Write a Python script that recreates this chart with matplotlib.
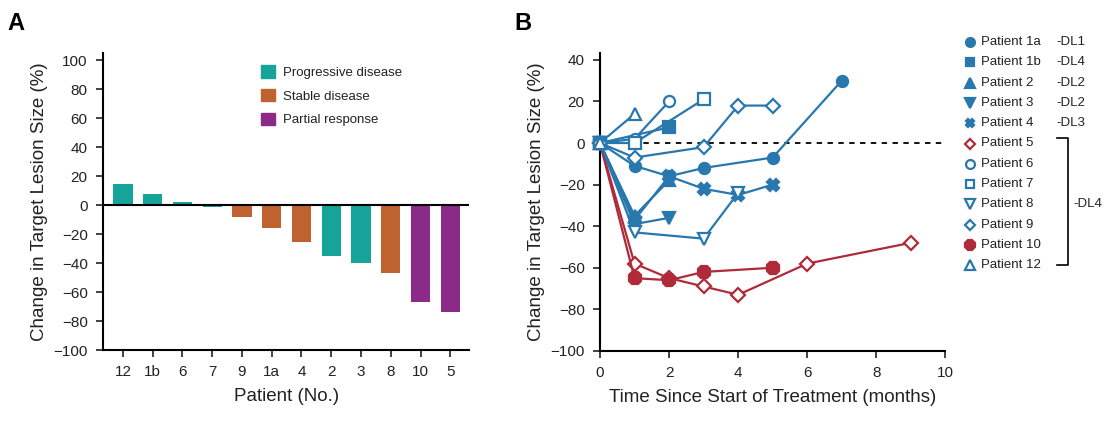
import matplotlib
matplotlib.use('Agg')
from matplotlib import pyplot as plt

plt.rcParams['font.family'] = ['Liberation Sans', 'DejaVu Sans']

# panel A data
patients = ['12', '1b', '6', '7', '9', '1a', '4', '2', '3', '8', '10', '5']
change = [14.5, 8, 2, -1.5, -8, -16, -25.5, -35, -40, -47, -66.5, -74]
response = ['PD', 'PD', 'PD', 'PD', 'SD', 'SD', 'SD', 'PD', 'PD', 'SD', 'PR', 'PR']
resp_names = {'PD': 'Progressive disease', 'SD': 'Stable disease', 'PR': 'Partial response'}
resp_colors = {'PD': '#15a39a', 'SD': '#c0622f', 'PR': '#8c2a8a'}

# panel B data
blue = '#2878ad'
red = '#b02a3a'
series = [
    ('Patient 1a', '-DL1', [0, 1, 2, 3, 5, 7], [0, -11, -16, -12, -7, 30], 'o', True, blue),
    ('Patient 1b', '-DL4', [0, 2], [0, 7.5], 's', True, blue),
    ('Patient 2', '-DL2', [0, 1, 2], [0, -35, -18], '^', True, blue),
    ('Patient 3', '-DL2', [0, 1, 2], [0, -39, -36], 'v', True, blue),
    ('Patient 4', '-DL3', [0, 1, 2, 3, 4, 5], [0, -37, -16, -22, -25, -20], 'X', True, blue),
    ('Patient 5', '', [0, 1, 2, 3, 4, 6, 9], [0, -58, -65, -69, -73, -58, -48], 'D', False, red),
    ('Patient 6', '', [0, 1, 2], [0, 2, 20], 'o', False, blue),
    ('Patient 7', '', [0, 1, 3], [0, 0, 21], 's', False, blue),
    ('Patient 8', '', [0, 1, 3, 4], [0, -43, -46, -24], 'v', False, blue),
    ('Patient 9', '', [0, 1, 3, 4, 5], [0, -7, -2, 18, 18], 'D', False, blue),
    ('Patient 10', '', [0, 1, 2, 3, 5], [0, -65, -66, -62, -60], '8', True, red),
    ('Patient 12', '', [0, 1], [0, 14], '^', False, blue),
]
msize = {'o': 8, 's': 8, '^': 8.5, 'v': 8.5, 'X': 8, 'D': 7, '8': 10}

fig = plt.figure(figsize=(11.07, 4.29), dpi=100)
tc = '#222222'

# ---------- A ----------
ax = fig.add_axes([0.093, 0.184, 0.331, 0.692])
x = list(range(len(patients)))
ax.bar(x, change, width=0.65, color=[resp_colors[r] for r in response], zorder=2)
ax.axhline(0, color='black', lw=1.5, zorder=3)
ax.set_xlim(-0.67, 11.64)
ax.set_ylim(-100, 105)
ax.set_yticks(range(-100, 101, 20))
ax.set_yticklabels([str(v).replace('-', '\u2212') for v in range(-100, 101, 20)])
ax.set_xticks(x)
ax.set_xticklabels(patients)
for s in ['top', 'right']:
    ax.spines[s].set_visible(False)
for s in ['left', 'bottom']:
    ax.spines[s].set_linewidth(1.5)
ax.tick_params(direction='out', length=5, width=1.2, labelsize=11, colors=tc, pad=6)
ax.set_ylabel('Change in Target Lesion Size (%)', fontsize=13.5, color=tc, labelpad=4)
ax.set_xlabel('Patient (No.)', fontsize=13.5, color=tc, labelpad=6)
hs = [plt.Rectangle((0, 0), 1, 1, color=resp_colors[k]) for k in ['PD', 'SD', 'PR']]
ax.legend(hs, [resp_names[k] for k in ['PD', 'SD', 'PR']], loc='upper left',
          bbox_to_anchor=(0.4, 1.0), frameon=False, fontsize=9.5, handlelength=1.0,
          handleheight=1.1, labelspacing=0.75, handletextpad=0.6, labelcolor=tc)

# ---------- B ----------
bx = fig.add_axes([0.542, 0.182, 0.312, 0.695])
for name, dl, t, v, m, filled, c in series:
    zo = 2 if c == red else 3
    bx.plot(t, v, color=c, lw=1.6, marker=m, ms=msize[m],
            mfc=c if filled else 'white', mec=c, mew=1.6, zorder=zo, clip_on=False)
bx.axhline(0, color='black', lw=1.3, ls=(0, (3, 3)), zorder=1)
bx.set_xlim(0, 10)
bx.set_ylim(-100, 43.4)
bx.set_yticks(range(-100, 41, 20))
bx.set_yticklabels([str(v).replace('-', '\u2212') for v in range(-100, 41, 20)])
bx.set_xticks(range(0, 11, 2))
for s in ['top', 'right']:
    bx.spines[s].set_visible(False)
for s in ['left', 'bottom']:
    bx.spines[s].set_linewidth(1.5)
bx.tick_params(direction='out', length=5, width=1.2, labelsize=11, colors=tc, pad=6)
bx.set_ylabel('Change in Target Lesion Size (%)', fontsize=13.5, color=tc, labelpad=4)
bx.set_xlabel('Time Since Start of Treatment (months)', fontsize=13.5, color=tc, labelpad=6)

# legend for B, drawn in pixel coordinates
lg = fig.add_axes([0, 0, 1, 1], zorder=5)
lg.set_xlim(0, 1107)
lg.set_ylim(429, 0)
lg.axis('off')
for i, (name, dl, t, v, m, filled, c) in enumerate(series):
    yy = 42 + i * 20.3
    lg.plot([970], [yy], marker=m, ms=msize[m] * 0.8, mfc=c if filled else 'white',
            mec=c, mew=1.6, color=c)
    lg.text(981, yy, name, fontsize=9.5, va='center', color=tc)
    if dl:
        lg.text(1056, yy, dl, fontsize=9.5, va='center', color=tc)
lg.plot([1057, 1068, 1068, 1057], [138, 138, 265, 265], color='black', lw=1.2)
lg.text(1073, 204, '-DL4', fontsize=9.5, va='center', color=tc)

fig.text(0.007, 0.945, 'A', fontsize=17, fontweight='bold', va='center')
fig.text(0.465, 0.945, 'B', fontsize=17, fontweight='bold', va='center')

fig.savefig('out.png', dpi=100)
